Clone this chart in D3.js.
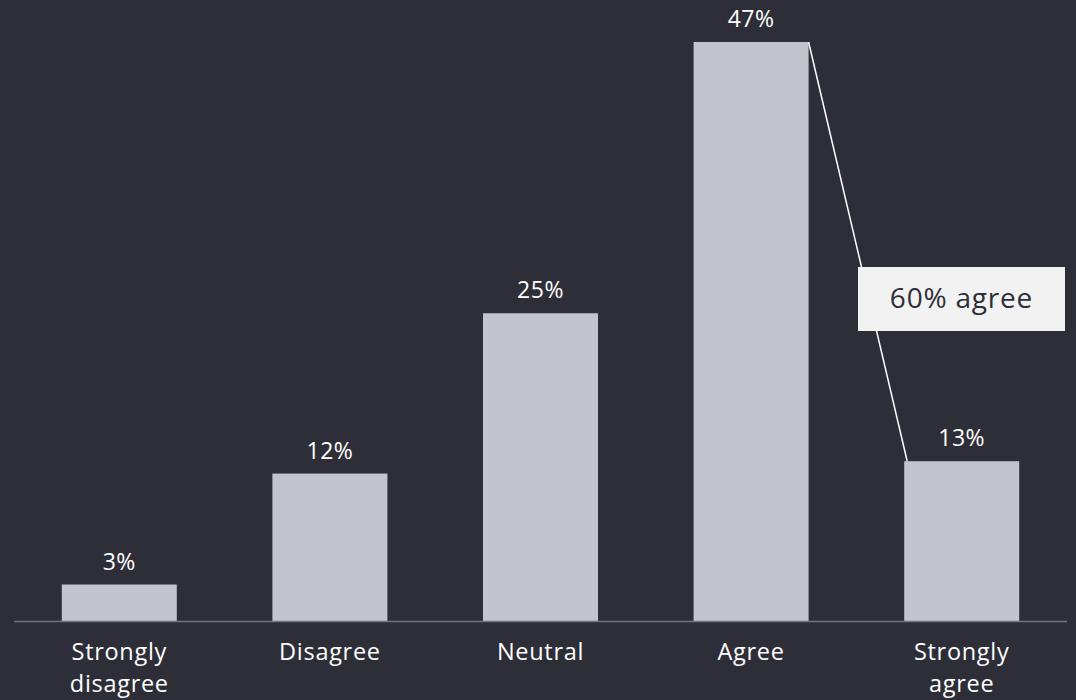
<!DOCTYPE html>
<html>
<head>
<meta charset="utf-8">
<script src="https://cdn.jsdelivr.net/npm/d3@7"></script>
<style>
  html, body { margin: 0; padding: 0; background: #2e2e38; }
  svg { display: block; font-family: "Open Sans", sans-serif; }
</style>
</head>
<body>
<svg id="chart"></svg>
<script>
// dati del grafico
var categories = [["Strongly", "disagree"], ["Disagree"], ["Neutral"], ["Agree"], ["Strongly", "agree"]];
var values = [3, 12, 25, 47, 13];
var valueLabels = ["3%", "12%", "25%", "47%", "13%"];
var calloutText = "60% agree";

var width = 1076, height = 700;
var baseY = 621.5;

var svg = d3.select("#chart").attr("width", width).attr("height", height);

svg.append("rect").attr("width", width).attr("height", height).attr("fill", "#2e2e38");

var x = d3.scaleBand()
    .domain(d3.range(values.length))
    .range([14, 1067])
    .paddingInner(0.454)
    .paddingOuter(0.227);

var y = d3.scaleLinear().domain([0, 50]).range([baseY, 5]);

// barre
svg.selectAll(".bar")
    .data(values)
    .enter().append("rect")
    .attr("class", "bar")
    .attr("x", function(d, i) { return x(i); })
    .attr("y", function(d) { return y(d); })
    .attr("width", x.bandwidth())
    .attr("height", function(d) { return baseY - y(d); })
    .attr("fill", "#c4c4cd");

// asse
svg.append("line")
    .attr("x1", 14).attr("x2", 1067)
    .attr("y1", baseY).attr("y2", baseY)
    .attr("stroke", "#747480").attr("stroke-width", 1.5);

// etichette valori
svg.selectAll(".val")
    .data(values)
    .enter().append("text")
    .attr("class", "val")
    .attr("x", function(d, i) { return x(i) + x.bandwidth() / 2; })
    .attr("y", function(d) { return y(d) - 15; })
    .attr("text-anchor", "middle")
    .attr("fill", "#ffffff")
    .attr("font-size", 23)
    .attr("letter-spacing", 0.5)
    .text(function(d, i) { return valueLabels[i]; });

// etichette categorie
var cat = svg.selectAll(".cat")
    .data(categories)
    .enter().append("text")
    .attr("class", "cat")
    .attr("text-anchor", "middle")
    .attr("fill", "#ffffff")
    .attr("font-size", 23.5)
    .attr("letter-spacing", 0.7);

cat.selectAll("tspan")
    .data(function(d, i) { return d.map(function(t) { return {t: t, i: i}; }); })
    .enter().append("tspan")
    .attr("x", function(d) { return x(d.i) + x.bandwidth() / 2; })
    .attr("y", function(d, j) { return 660 + j * 32; })
    .text(function(d) { return d.t; });

// linea di collegamento Agree -> Strongly agree
var agreeIdx = 3, strongIdx = 4;
svg.append("line")
    .attr("x1", x(agreeIdx) + x.bandwidth())
    .attr("y1", y(values[agreeIdx]))
    .attr("x2", x(strongIdx) + 3)
    .attr("y2", y(values[strongIdx]))
    .attr("stroke", "#ffffff")
    .attr("stroke-width", 1.5);

// box del totale
var box = svg.append("g").attr("transform", "translate(858,267)");
box.append("rect").attr("width", 207).attr("height", 64).attr("fill", "#f2f2f2");
box.append("text")
    .attr("x", 103.5).attr("y", 41)
    .attr("text-anchor", "middle")
    .attr("fill", "#2e2e38")
    .attr("font-size", 28)
    .attr("letter-spacing", 0.8)
    .text(calloutText);
</script>
</body>
</html>
